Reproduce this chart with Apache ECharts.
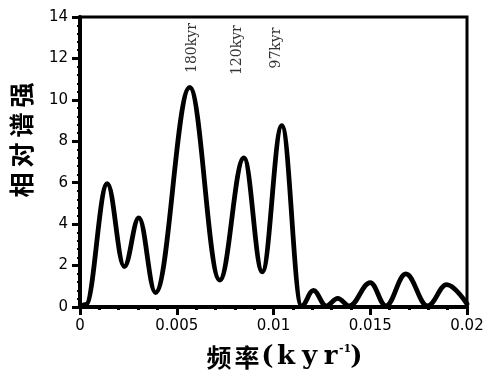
<!DOCTYPE html>
<html>
<head>
<meta charset="utf-8">
<script src="https://cdn.jsdelivr.net/npm/echarts@6/dist/echarts.min.js"></script>
<style>html,body{margin:0;padding:0;background:#fff}#c{width:489px;height:378px}</style>
</head>
<body>
<div id="c"></div>
<script>
// Frequency (kyr^-1) and relative spectral power at the turning points
var freq = [0, 0.0003, 0.00141, 0.00229, 0.00304, 0.0039, 0.00567, 0.00722, 0.00847, 0.00942,
  0.01043, 0.01145, 0.01206, 0.01272, 0.01332, 0.01392, 0.0150, 0.01581, 0.01684, 0.01796,
  0.01895, 0.02];
var power = [0, 0.12, 5.95, 1.95, 4.3, 0.7, 10.6, 1.3, 7.2, 1.7,
  8.75, 0.05, 0.8, 0.05, 0.42, 0.05, 1.18, 0.05, 1.6, 0.05,
  1.08, 0.15];
// Period annotations
var annotationText = ['180kyr', '120kyr', '97kyr'];
var annotationFreq = [0.00582, 0.00814, 0.01015];
var annotationLevel = [12.5, 12.4, 12.5];
// Axis tick labels
var xTickLabels = ['0', '0.005', '0.01', '0.015', '0.02'];
var yTickLabels = ['0', '2', '4', '6', '8', '10', '12', '14'];

var lineData = freq.map(function (f, i) { return [f, power[i]]; });
var annData = annotationText.map(function (t, i) { return { name: t, value: [annotationFreq[i], annotationLevel[i]] }; });

var chart = echarts.init(document.getElementById('c'), null, { renderer: 'canvas' });
var sans = 'DejaVu Sans';
var serif = 'DejaVu Serif';
chart.setOption({
  backgroundColor: '#fff',
  animation: false,
  grid: { left: 80, right: 22, top: 17, bottom: 71, show: true, borderColor: '#000', borderWidth: 3, backgroundColor: 'transparent' },
  xAxis: {
    type: 'value', min: 0, max: 0.02, interval: 0.005,
    axisLine: { lineStyle: { color: '#000', width: 4 } },
    axisTick: { show: true, length: 8, lineStyle: { color: '#000', width: 3 } },
    minorTick: { show: true, splitNumber: 5, length: 3, lineStyle: { color: '#000', width: 3 } },
    splitLine: { show: false },
    axisLabel: { margin: 12, color: '#000', fontFamily: sans, fontSize: 15,
      formatter: function (v, i) { return xTickLabels[i]; } },
    name: '{h|频}{h|率}{p|(}{k|k}{y|y}{r|r}{sup|-1}{q|)}',
    nameLocation: 'middle', nameGap: 37,
    nameTextStyle: {
      padding: [0, 0, 0, 21],
      rich: {
        h: { fontFamily: 'Noto Sans CJK SC', fontSize: 25, fontWeight: 'bold', width: 28, align: 'center', color: '#000' },
        p: { fontFamily: serif, fontSize: 26, fontWeight: 'bold', width: 13, align: 'center', color: '#000' },
        q: { fontFamily: serif, fontSize: 26, fontWeight: 'bold', width: 13, align: 'center', color: '#000' },
        k: { fontFamily: serif, fontSize: 26, fontWeight: 'bold', width: 24, align: 'center', color: '#000' },
        y: { fontFamily: serif, fontSize: 26, fontWeight: 'bold', width: 23, align: 'center', color: '#000' },
        r: { fontFamily: serif, fontSize: 26, fontWeight: 'bold', width: 19, align: 'center', color: '#000' },
        sup: { fontFamily: serif, fontSize: 11, fontWeight: 'bold', width: 10, align: 'center', verticalAlign: 'top', color: '#000' }
      }
    }
  },
  yAxis: {
    type: 'value', min: 0, max: 14, interval: 2,
    axisLine: { lineStyle: { color: '#000', width: 4 } },
    axisTick: { show: true, length: 8, lineStyle: { color: '#000', width: 3 } },
    minorTick: { show: true, splitNumber: 5, length: 3, lineStyle: { color: '#000', width: 2 } },
    splitLine: { show: false },
    axisLabel: { margin: 12, color: '#000', fontFamily: sans, fontSize: 15,
      formatter: function (v, i) { return yTickLabels[i]; } },
    name: '{c|相}{c|对}{c|谱}{c|强}',
    nameLocation: 'middle', nameGap: 46, nameRotate: 90,
    nameTextStyle: {
      padding: [0, 0, 0, 44],
      rich: { c: { fontFamily: 'Noto Sans CJK SC', fontSize: 25, fontWeight: 'bold', width: 30, align: 'center', color: '#000' } }
    }
  },
  series: [
    {
      type: 'line', data: lineData, smooth: 0.38, smoothMonotone: 'x', symbol: 'none',
      lineStyle: { color: '#000', width: 4.8, join: 'round', cap: 'round' }
    },
    {
      type: 'scatter', data: annData, symbolSize: 0, silent: true,
      label: { show: true, position: 'inside', rotate: 90, formatter: '{b}', color: '#000',
        fontFamily: serif, fontSize: 14 }
    }
  ]
});
</script>
</body>
</html>
